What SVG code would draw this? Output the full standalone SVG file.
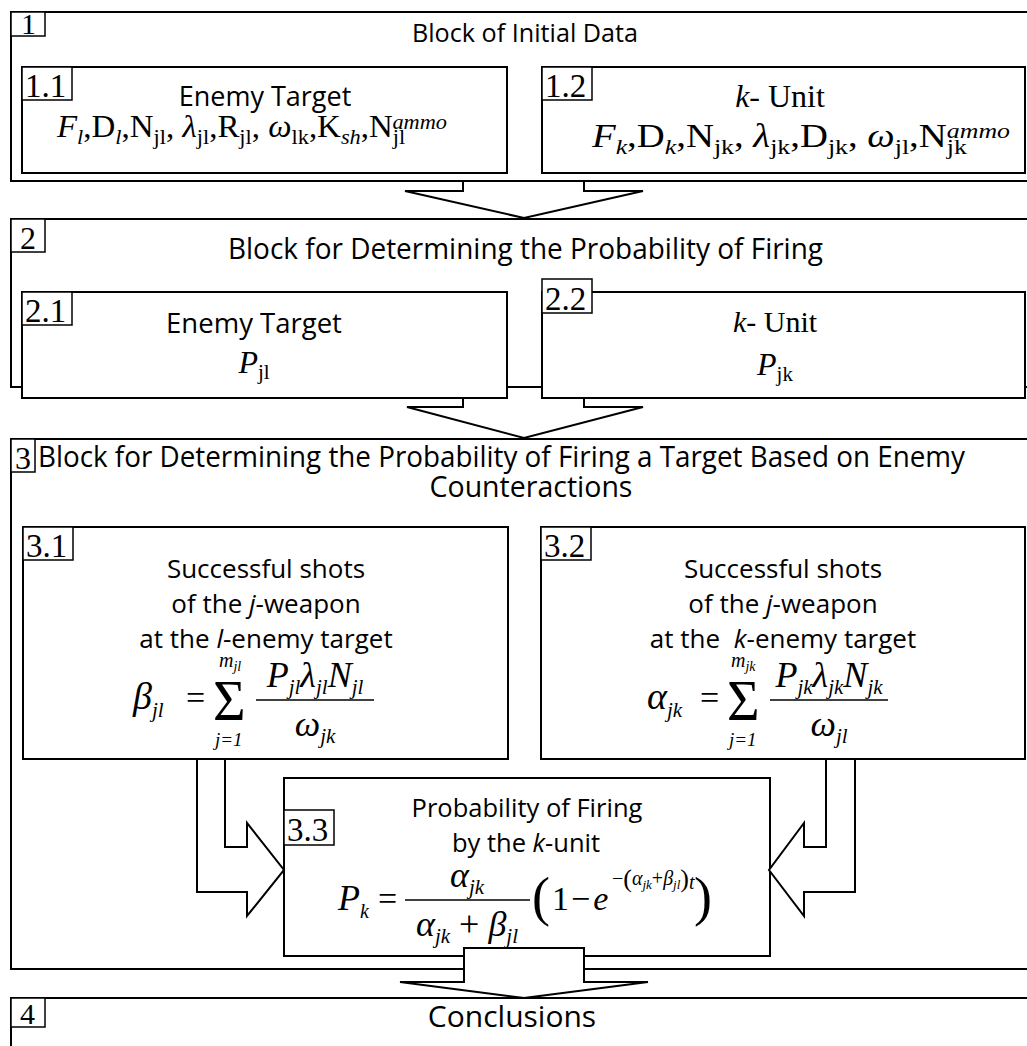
<svg xmlns="http://www.w3.org/2000/svg" width="1027" height="1046" viewBox="0 0 1027 1046">
<style>
.bx{fill:#fff;stroke:#000;stroke-width:2}
.lb{fill:#fff;stroke:#000;stroke-width:1.5}
.cn{fill:#fff;stroke:#000;stroke-width:2}
.op{fill:none;stroke:#000;stroke-width:2}
.bar{stroke:#000;stroke-width:1.6}
.s{font-family:"Open Sans","Noto Sans",sans-serif;fill:#000}
.m{font-family:"Liberation Serif","Times New Roman",serif;fill:#000}
.i{font-style:italic}
.n{font-style:normal}
.c{text-anchor:middle}
</style>
<rect width="1027" height="1046" fill="#fff"/>

<g id="block1">
<rect class="bx" x="11" y="12" width="1030" height="169"/>
<rect class="lb" x="11" y="12" width="34" height="24"/>
<text class="m" x="21" y="34" font-size="30">1</text>
<text class="s" x="412" y="42" font-size="25" textLength="226" lengthAdjust="spacingAndGlyphs">Block of Initial Data</text>
</g>
<g id="node1_1">
<rect class="bx" x="22" y="67" width="485" height="106"/>
<rect class="lb" x="22" y="67" width="50" height="33"/>
<text class="m" x="25" y="97" font-size="33">1.1</text>
<text class="s c" x="265" y="106" font-size="27">Enemy Target</text>
<text class="m" x="57" y="137" font-size="31" textLength="390" lengthAdjust="spacingAndGlyphs"><tspan class="i">F</tspan><tspan class="i" font-size="21" dy="7">l</tspan><tspan dy="-7">,D</tspan><tspan class="i" font-size="21" dy="7">l</tspan><tspan dy="-7">,N</tspan><tspan font-size="21" dy="7">jl</tspan><tspan dy="-7">, </tspan><tspan class="i">λ</tspan><tspan font-size="21" dy="7">jl</tspan><tspan dy="-7">,R</tspan><tspan font-size="21" dy="7">jl</tspan><tspan dy="-7">, </tspan><tspan class="i">ω</tspan><tspan font-size="21" dy="7">lk</tspan><tspan dy="-7">,K</tspan><tspan class="i" font-size="21" dy="7">sh</tspan><tspan dy="-7">,N</tspan><tspan font-size="21" dy="7">jl</tspan><tspan class="i" font-size="21" dx="-12" dy="-15">ammo</tspan></text>
</g>
<g id="node1_2">
<rect class="bx" x="542" y="67" width="483" height="106"/>
<rect class="lb" x="542" y="67" width="50" height="33"/>
<text class="m" x="545" y="97" font-size="33">1.2</text>
<text class="m c" x="780" y="107" font-size="32"><tspan class="i">k</tspan>- Unit</text>
<text class="m" x="592" y="147" font-size="33" textLength="418" lengthAdjust="spacingAndGlyphs"><tspan class="i">F</tspan><tspan class="i" font-size="22" dy="7">k</tspan><tspan dy="-7">,D</tspan><tspan class="i" font-size="22" dy="7">k</tspan><tspan dy="-7">,N</tspan><tspan font-size="22" dy="7">jk</tspan><tspan dy="-7">, </tspan><tspan class="i">λ</tspan><tspan font-size="22" dy="7">jk</tspan><tspan dy="-7">,D</tspan><tspan font-size="22" dy="7">jk</tspan><tspan dy="-7">, </tspan><tspan class="i">ω</tspan><tspan font-size="22" dy="7">jl</tspan><tspan dy="-7">,N</tspan><tspan font-size="22" dy="7">jk</tspan><tspan class="i" font-size="22" dx="-17" dy="-16">ammo</tspan></text>
</g>

<g id="block2">
<rect class="bx" x="11" y="219" width="1030" height="168"/>
<rect class="lb" x="11" y="219" width="34" height="33"/>
<text class="m" x="20" y="249" font-size="32">2</text>
<text class="s" x="228" y="259" font-size="28.5" textLength="595" lengthAdjust="spacingAndGlyphs">Block for Determining the Probability of Firing</text>
</g>
<g id="node2_1">
<rect class="bx" x="22" y="292" width="485" height="106"/>
<rect class="lb" x="22" y="292" width="50" height="33"/>
<text class="m" x="25" y="322" font-size="33">2.1</text>
<text class="s c" x="254" y="333" font-size="27.5">Enemy Target</text>
<text class="m c" x="254" y="373" font-size="32"><tspan class="i">P</tspan><tspan font-size="21" dy="6">jl</tspan></text>
</g>
<g id="node2_2">
<rect class="bx" x="542" y="292" width="483" height="106"/>
<rect class="lb" x="542" y="279" width="50" height="34"/>
<text class="m" x="545" y="310" font-size="33">2.2</text>
<text class="m c" x="775" y="332" font-size="30"><tspan class="i">k</tspan>- Unit</text>
<text class="m c" x="775" y="375" font-size="32"><tspan class="i">P</tspan><tspan font-size="21" dy="6">jk</tspan></text>
</g>

<g id="block3">
<rect class="bx" x="11" y="439" width="1030" height="530"/>
<rect class="lb" x="11" y="439" width="24" height="33"/>
<text class="m" x="15" y="469" font-size="32">3</text>
<text class="s" x="38" y="467" font-size="28.5" textLength="927" lengthAdjust="spacingAndGlyphs">Block for Determining the Probability of Firing a Target Based on Enemy</text>
<text class="s c" x="531" y="497" font-size="28.5">Counteractions</text>
</g>
<g id="node3_1">
<rect class="bx" x="23" y="527" width="485" height="232"/>
<rect class="lb" x="23" y="527" width="50" height="33"/>
<text class="m" x="26" y="557" font-size="33">3.1</text>
<text class="s c" x="266" y="578" font-size="26">Successful shots</text>
<text class="s c" x="266" y="613" font-size="26">of the <tspan class="i">j</tspan>-weapon</text>
<text class="s c" x="266" y="648" font-size="26">at the <tspan class="i">l</tspan>-enemy target</text>
<text class="m i" x="133" y="709" font-size="38">β<tspan font-size="21" dy="8">jl</tspan></text>
<text class="m" x="186" y="709" font-size="34">=</text>
<text class="m" x="213" y="720" font-size="56">Σ</text>
<text class="m i" x="219" y="667" font-size="20">m<tspan font-size="14" dy="4">jl</tspan></text>
<text class="m i" x="215" y="746" font-size="19">j=1</text>
<text class="m i c" x="315" y="687" font-size="36">P<tspan font-size="21" dy="7">jl</tspan><tspan dy="-7">λ</tspan><tspan font-size="21" dy="7">jl</tspan><tspan dy="-7">N</tspan><tspan font-size="21" dy="7">jl</tspan></text>
<line class="bar" x1="256" y1="700" x2="374" y2="700"/>
<text class="m i c" x="315" y="736" font-size="36">ω<tspan font-size="21" dy="7">jk</tspan></text>
</g>
<g id="node3_2">
<rect class="bx" x="541" y="527" width="484" height="232"/>
<rect class="lb" x="541" y="527" width="50" height="33"/>
<text class="m" x="544" y="557" font-size="33">3.2</text>
<text class="s c" x="783" y="578" font-size="26">Successful shots</text>
<text class="s c" x="783" y="613" font-size="26">of the <tspan class="i">j</tspan>-weapon</text>
<text class="s c" x="783" y="648" font-size="26">at the <tspan class="i" dx="7">k</tspan>-enemy target</text>
<text class="m i" x="647" y="709" font-size="38">α<tspan font-size="21" dy="8">jk</tspan></text>
<text class="m" x="700" y="709" font-size="34">=</text>
<text class="m" x="727" y="720" font-size="56">Σ</text>
<text class="m i" x="731" y="667" font-size="20">m<tspan font-size="14" dy="4">jk</tspan></text>
<text class="m i" x="729" y="746" font-size="19">j=1</text>
<text class="m i c" x="829" y="687" font-size="36">P<tspan font-size="21" dy="7">jk</tspan><tspan dy="-7">λ</tspan><tspan font-size="21" dy="7">jk</tspan><tspan dy="-7">N</tspan><tspan font-size="21" dy="7">jk</tspan></text>
<line class="bar" x1="770" y1="700" x2="888" y2="700"/>
<text class="m i c" x="829" y="736" font-size="36">ω<tspan font-size="21" dy="7">jl</tspan></text>
</g>
<g id="node3_3">
<rect class="bx" x="284" y="778" width="486" height="178"/>
<rect class="lb" x="284" y="810" width="50" height="35"/>
<text class="m" x="287" y="841" font-size="33">3.3</text>
<text class="s c" x="527" y="817" font-size="25.5">Probability of Firing</text>
<text class="s c" x="526" y="852" font-size="25.5">by the <tspan class="i">k</tspan>-unit</text>
<text class="m i" x="338" y="910" font-size="36">P<tspan font-size="20" dy="8">k</tspan></text>
<text class="m" x="378" y="910" font-size="34">=</text>
<text class="m i c" x="467" y="887" font-size="36">α<tspan font-size="21" dy="7">jk</tspan></text>
<line class="bar" x1="405" y1="900" x2="530" y2="900"/>
<text class="m i c" x="467" y="936" font-size="36">α<tspan font-size="21" dy="7">jk</tspan><tspan class="n" dy="-7"> + </tspan>β<tspan font-size="21" dy="7">jl</tspan></text>
<text class="m" x="532" y="915" font-size="54">(</text>
<text class="m" x="552" y="910" font-size="34">1<tspan dx="2">−</tspan><tspan class="i" dx="3">e</tspan></text>
<text class="m i" x="612" y="885" font-size="20"><tspan class="n">−</tspan><tspan class="n" font-size="26" dy="2">(</tspan><tspan dy="-2">α</tspan><tspan font-size="13" dy="4">jk</tspan><tspan class="n" dy="-4">+</tspan>β<tspan font-size="13" dy="4">jl</tspan><tspan class="n" font-size="26" dy="-2">)</tspan><tspan dy="2">t</tspan></text>
<text class="m" x="694" y="915" font-size="54">)</text>
</g>

<g id="block4">
<rect class="bx" x="11" y="998" width="1030" height="70"/>
<rect class="lb" x="11" y="998" width="34" height="29"/>
<text class="m" x="20" y="1024" font-size="30">4</text>
<text class="s c" x="512" y="1027" font-size="30">Conclusions</text>
</g>

<g id="connectors">
<path class="op" d="M463,181 V191 H405 L524,218 L643,191 H584 V181"/>
<path class="op" d="M463,398 V407 H407 L524,438 L643,407 H584 V398"/>
<path class="cn" d="M197,759 H225 V847 H247 V823 L284,870 L247,916 V892 H197 Z"/>
<path class="cn" d="M855,759 H826 V847 H804 V823 L769,870 L804,916 V892 H855 Z"/>
<path class="cn" d="M464,948 H584 V982 H648 L524,998 L400,982 H464 Z"/>
</g>
</svg>
